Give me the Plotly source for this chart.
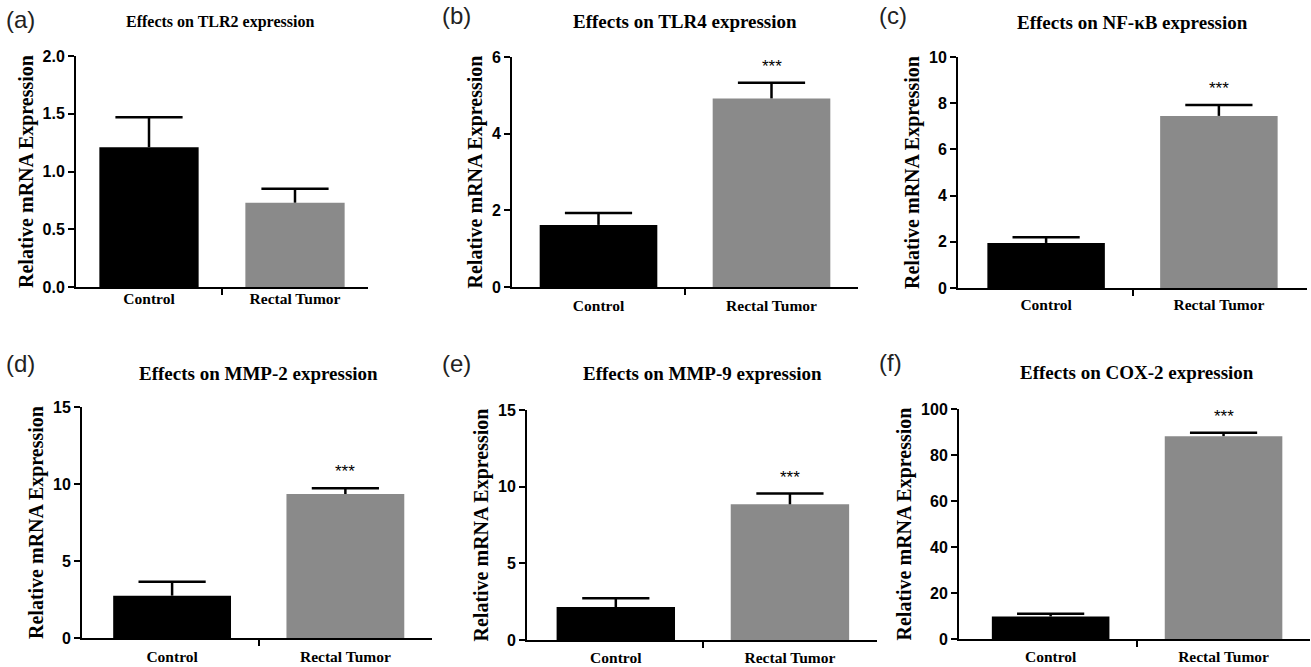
import plotly.graph_objects as go

categories = ["Control", "Rectal Tumor"]
x_pos = [0, 1]

titles = ["Effects on TLR2 expression", "Effects on TLR4 expression", "Effects on NF-κB expression",
          "Effects on MMP-2 expression", "Effects on MMP-9 expression", "Effects on COX-2 expression"]
panel_labels = ["(a)", "(b)", "(c)", "(d)", "(e)", "(f)"]

tlr2_mean = [1.21, 0.73]
tlr2_err = [0.26, 0.12]
tlr4_mean = [1.62, 4.92]
tlr4_err = [0.31, 0.41]
nfkb_mean = [1.95, 7.45]
nfkb_err = [0.25, 0.47]
mmp2_mean = [2.75, 9.35]
mmp2_err = [0.90, 0.38]
mmp9_mean = [2.15, 8.85]
mmp9_err = [0.58, 0.70]
cox2_mean = [9.8, 88.2]
cox2_err = [1.2, 1.5]

means = [tlr2_mean, tlr4_mean, nfkb_mean, mmp2_mean, mmp9_mean, cox2_mean]
errs = [tlr2_err, tlr4_err, nfkb_err, mmp2_err, mmp9_err, cox2_err]
significance = ["", "***", "***", "***", "***", "***"]

y_ticks = [[0, 0.5, 1.0, 1.5, 2.0], [0, 2, 4, 6], [0, 2, 4, 6, 8, 10],
           [0, 5, 10, 15], [0, 5, 10, 15], [0, 20, 40, 60, 80, 100]]
y_fmt = [".1f", "d", "d", "d", "d", "d"]

W, H = 1311, 667
# pixel boxes (left, right, top, bottom) of each plot area
boxes = [(76, 368, 56, 287), (512, 858, 57, 287), (958, 1307, 57, 288),
         (82, 432, 407, 638), (527, 877, 410, 640), (959, 1310, 409, 639)]
x_ranges = [[-0.5, 1.5], [-0.5, 1.5], [-0.51, 1.51], [-0.52, 1.5], [-0.51, 1.5], [-0.53, 1.5]]
title_pos = [(220, 22, 16), (685, 22, 19), (1132, 23, 19), (258, 373, 19), (702, 373, 19), (1137, 372, 19)]
label_pos = [(4, 19), (440, 16), (877, 16), (4, 364), (440, 364), (877, 362)]
cat_standoff = [-4, 3, 1, 3, 2, 2]

colors = ["#000000", "#8a8a8a"]
serif = "Liberation Serif, Times New Roman, serif"
sans = "Liberation Sans, Arial, sans-serif"

fig = go.Figure()
annotations = []
for i in range(6):
    ax = "" if i == 0 else str(i + 1)
    tops = [m + e for m, e in zip(means[i], errs[i])]
    fig.add_trace(go.Bar(
        x=x_pos, y=means[i], width=0.68,
        marker=dict(color=colors, line=dict(width=0)),
        error_y=dict(type="data", array=errs[i], arrayminus=[0, 0], symmetric=False,
                     color="#000000", thickness=2.5, width=0),
        xaxis="x" + ax, yaxis="y" + ax, showlegend=False, hoverinfo="skip"))
    # error-bar caps
    fig.add_trace(go.Scatter(
        x=x_pos, y=tops, mode="markers",
        marker=dict(symbol="line-ew", size=48, line=dict(width=2.5, color="#000000")),
        xaxis="x" + ax, yaxis="y" + ax, showlegend=False, hoverinfo="skip"))
    l, r, t, b = boxes[i]
    fig.layout["xaxis" + ax] = dict(
        domain=[l / W, r / W], anchor="y" + ax, range=x_ranges[i],
        tickvals=x_pos, ticktext=categories, ticks="", ticklabelstandoff=cat_standoff[i],
        tickfont=dict(family=serif, size=15.5, color="#000", weight="bold"),
        showline=True, linecolor="#000", linewidth=2, showgrid=False, zeroline=False,
        minor=dict(tickvals=[0.5], ticks="outside", ticklen=6, tickwidth=2, tickcolor="#000"),
        automargin=False, fixedrange=True)
    fig.layout["yaxis" + ax] = dict(
        domain=[1 - b / H, 1 - t / H], anchor="x" + ax, range=[0, y_ticks[i][-1]],
        tickvals=y_ticks[i], tickformat=y_fmt[i], ticks="outside", ticklen=6, tickwidth=2,
        tickcolor="#000",
        tickfont=dict(family=sans, size=16, color="#000", weight="bold"),
        showline=True, linecolor="#000", linewidth=2, showgrid=False, zeroline=False,
        title=dict(text="Relative mRNA Expression", standoff=4,
                   font=dict(family=serif, size=20, color="#000", weight="bold")),
        automargin=False, fixedrange=True)
    tx, ty, ts = title_pos[i]
    annotations.append(dict(text=titles[i], x=tx / W, y=1 - ty / H, xref="paper", yref="paper",
                            xanchor="center", yanchor="middle", showarrow=False,
                            font=dict(family=serif, size=ts, color="#000", weight="bold")))
    lx, ly = label_pos[i]
    annotations.append(dict(text=panel_labels[i], x=lx / W, y=1 - ly / H, xref="paper", yref="paper",
                            xanchor="left", yanchor="middle", showarrow=False,
                            font=dict(family=sans, size=24, color="#222")))
    if significance[i]:
        annotations.append(dict(text=significance[i], x=1, y=tops[1],
                                xref="x" + ax, yref="y" + ax, xanchor="center", yanchor="bottom",
                                yshift=5, showarrow=False,
                                font=dict(family=sans, size=17, color="#000")))

fig.update_layout(width=W, height=H, margin=dict(l=0, r=0, t=0, b=0, autoexpand=False),
                  paper_bgcolor="white", plot_bgcolor="white",
                  annotations=annotations, bargap=0.3)
fig.write_html("out.html", config={"displayModeBar": False},
               post_script="document.body.style.margin='0';document.body.style.overflow='hidden';")
